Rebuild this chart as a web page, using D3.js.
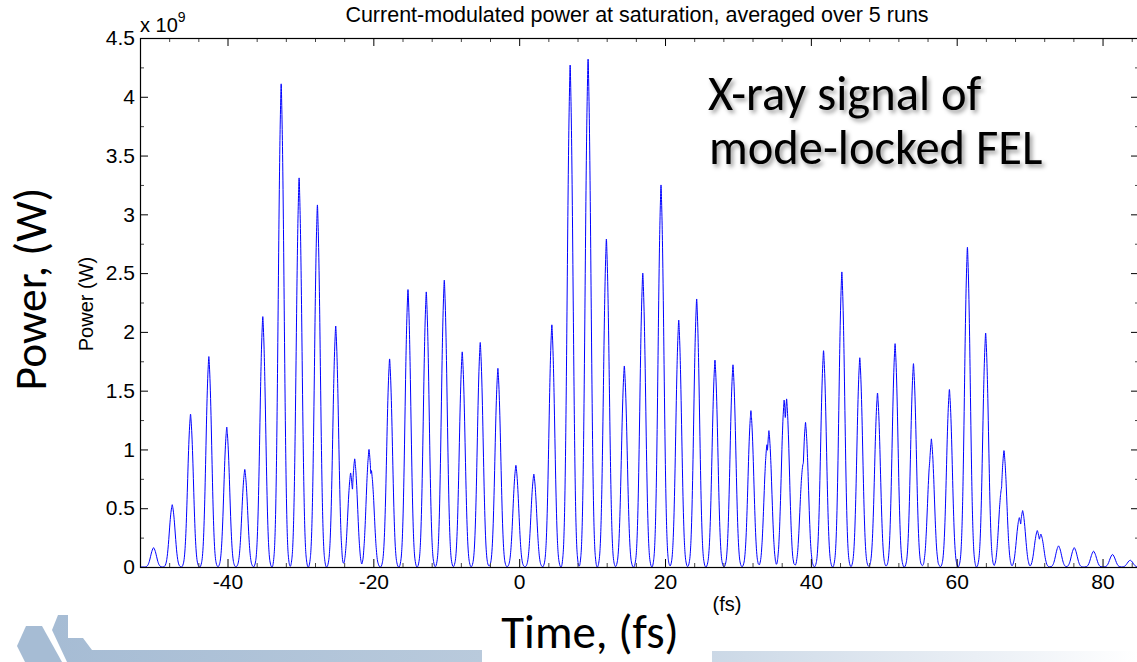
<!DOCTYPE html>
<html>
<head>
<meta charset="utf-8">
<script src="https://cdn.jsdelivr.net/npm/d3@7"></script>
<style>
  html, body { margin: 0; padding: 0; background: #ffffff; }
  svg { display: block; }
  .mat { font-family: "Liberation Sans", Arial, Helvetica, sans-serif; fill: #000; }
  .slide { font-family: Carlito, Calibri, Lato, "Open Sans", sans-serif; fill: #000; }
</style>
</head>
<body>
<script>
// Peak times (fs) and peak powers (units of 1e9 W) of the averaged pulse train
const peakTime = [-50.14, -47.58, -45.07, -42.56, -40.10, -37.63, -35.16, -32.64, -30.18, -27.67,
  -25.16, -22.56, -20.59, -17.77, -15.25, -12.74, -10.27, -7.81, -5.34, -2.92,
  -0.45, 2.01, 4.48, 6.99, 9.45, 11.96, 14.42, 16.95, 19.45, 21.88,
  24.34, 26.85, 29.32, 31.78, 34.25, 36.67, 39.27, 41.74, 44.25, 46.71,
  49.14, 51.55, 54.07, 56.53, 59.00, 61.47, 63.97, 66.48, 69.04, 71.05,
  73.97, 76.12, 78.77, 81.37, 83.79];
const peakPower = [0.165, 0.53, 1.30, 1.79, 1.19, 0.83, 2.13, 4.11, 3.31, 3.08,
  2.05, 0.92, 1.00, 1.77, 2.36, 2.34, 2.44, 1.83, 1.91, 1.69,
  0.865, 0.79, 2.06, 4.27, 4.32, 2.79, 1.71, 2.50, 3.25, 2.10,
  2.28, 1.76, 1.72, 1.33, 1.16, 1.43, 1.23, 1.84, 2.51, 1.78,
  1.48, 1.90, 1.73, 1.09, 1.51, 2.72, 1.99, 0.99, 0.48, 0.31,
  0.18, 0.165, 0.135, 0.107, 0.058];

// Secondary tops of the split pulses
const splitTime  = [-23.11, -20.27, 33.97, 36.34, 38.90, 56.40, 66.16, 68.59, 71.55];
const splitPower = [0.80, 0.82, 1.04, 1.42, 0.87, 0.96, 0.68, 0.42, 0.28];

// Single-pulse profile: offset from the pulse centre (fs) and relative level
const pulseOffset = [-1.24, -1.0, -0.88, -0.75, -0.64, -0.53, -0.42, -0.3, -0.18, -0.08, 0,
  0.08, 0.18, 0.3, 0.42, 0.53, 0.64, 0.75, 0.88, 1.0, 1.24];
const pulseLevel = [0, 0.02, 0.05, 0.12, 0.22, 0.36, 0.53, 0.72, 0.87, 0.955, 1,
  0.955, 0.87, 0.72, 0.53, 0.36, 0.22, 0.12, 0.05, 0.02, 0];

// Axis ticks
const xTickValues = [-40, -20, 0, 20, 40, 60, 80];
const xTickLabels = ["-40", "-20", "0", "20", "40", "60", "80"];
const yTickValues = [0, 0.5, 1, 1.5, 2, 2.5, 3, 3.5, 4, 4.5];
const yTickLabels = ["0", "0.5", "1", "1.5", "2", "2.5", "3", "3.5", "4", "4.5"];

const W = 1137, H = 662;
const plot = { left: 140, top: 38, right: 1139, bottom: 567 };

const svg = d3.select("body").append("svg").attr("width", W).attr("height", H);

// ---- slide decoration along the bottom ----
const defs = svg.append("defs");
const gBar = defs.append("linearGradient").attr("id", "barLeft").attr("x1", "0").attr("x2", "1");
gBar.append("stop").attr("offset", "0").attr("stop-color", "#a6bcd4");
gBar.append("stop").attr("offset", "1").attr("stop-color", "#b9cadc");
const gBar2 = defs.append("linearGradient").attr("id", "barRight").attr("x1", "0").attr("x2", "1");
gBar2.append("stop").attr("offset", "0").attr("stop-color", "#cbd8e6");
gBar2.append("stop").attr("offset", "0.7").attr("stop-color", "#eef2f7");
gBar2.append("stop").attr("offset", "1").attr("stop-color", "#ffffff");

const shadow = defs.append("filter").attr("id", "txtShadow")
  .attr("x", "-10%").attr("y", "-20%").attr("width", "130%").attr("height", "160%");
shadow.append("feDropShadow").attr("dx", 2.5).attr("dy", 3).attr("stdDeviation", 2)
  .attr("flood-color", "#000").attr("flood-opacity", 0.4);

const deco = svg.append("g");
deco.append("polygon")
  .attr("points", [[17, 646], [26, 626], [42, 626], [62, 662], [25, 662]].join(" "))
  .attr("fill", "#a6bcd4");
deco.append("polygon")
  .attr("points", [[52, 630], [58, 615], [68, 615], [68, 638], [83, 638], [92, 650],
                   [482, 650], [482, 662], [67, 662]].join(" "))
  .attr("fill", "url(#barLeft)");
deco.append("rect").attr("x", 712).attr("y", 651).attr("width", 425).attr("height", 11)
  .attr("fill", "url(#barRight)");

// ---- scales ----
const x = d3.scaleLinear().domain([-52, 85]).range([plot.left, plot.right]);
const y = d3.scaleLinear().domain([0, 4.5]).range([plot.bottom, plot.top]);

// ---- power trace built from the pulse list ----
const pulse = d3.scaleLinear().domain(pulseOffset).range(pulseLevel).clamp(true);
const pulses = peakTime.map((t, i) => ({ t, p: peakPower[i] }))
  .concat(splitTime.map((t, i) => ({ t, p: splitPower[i] })));
const times = [x.domain()[0], x.domain()[1]];
pulses.forEach(s => pulseOffset.forEach(o => times.push(s.t + o)));
times.sort(d3.ascending);
const trace = times.map(t => [t, d3.max(pulses, s => s.p * pulse(t - s.t))]);

defs.append("clipPath").attr("id", "plotClip").append("rect")
  .attr("x", plot.left).attr("y", plot.top - 1)
  .attr("width", plot.right - plot.left).attr("height", plot.bottom - plot.top + 1);

svg.append("path")
  .datum(trace)
  .attr("clip-path", "url(#plotClip)")
  .attr("fill", "none")
  .attr("stroke", "#0000ff")
  .attr("stroke-width", 1)
  .attr("d", d3.line().x(d => x(d[0])).y(d => y(d[1])).curve(d3.curveMonotoneX));

// ---- axes (ticks point inward on all four sides) ----
const xMinor = d3.range(-52, 85.01, 4).filter(v => !xTickValues.includes(v));
const yMinor = d3.range(0.25, 4.5, 0.5);
const fontSize = 21;

function styleAxis(g, tickColor) {
  g.select(".domain").remove();
  g.selectAll(".tick line").attr("stroke", tickColor).attr("stroke-width", 1);
  g.selectAll("text").attr("class", "mat").attr("font-size", fontSize).attr("fill", "#000");
  g.attr("font-family", null).attr("font-size", null);
}

const gxB = svg.append("g").attr("transform", `translate(0,${plot.bottom})`)
  .call(d3.axisBottom(x).tickValues(xTickValues).tickFormat((d, i) => xTickLabels[i])
    .tickSize(-8).tickPadding(7));
styleAxis(gxB, "#000");
const gxBm = svg.append("g").attr("transform", `translate(0,${plot.bottom})`)
  .call(d3.axisBottom(x).tickValues(xMinor).tickFormat("").tickSize(-4));
styleAxis(gxBm, "#444");

const gxT = svg.append("g").attr("transform", `translate(0,${plot.top})`)
  .call(d3.axisTop(x).tickValues(xTickValues).tickFormat("").tickSize(-8));
styleAxis(gxT, "#000");
const gxTm = svg.append("g").attr("transform", `translate(0,${plot.top})`)
  .call(d3.axisTop(x).tickValues(xMinor).tickFormat("").tickSize(-4));
styleAxis(gxTm, "#444");

const gyL = svg.append("g").attr("transform", `translate(${plot.left},0)`)
  .call(d3.axisLeft(y).tickValues(yTickValues).tickFormat((d, i) => yTickLabels[i])
    .tickSize(-8).tickPadding(5));
styleAxis(gyL, "#000");
const gyLm = svg.append("g").attr("transform", `translate(${plot.left},0)`)
  .call(d3.axisLeft(y).tickValues(yMinor).tickFormat("").tickSize(-4));
styleAxis(gyLm, "#444");

const gyR = svg.append("g").attr("transform", `translate(${plot.right},0)`)
  .call(d3.axisRight(y).tickValues(yTickValues).tickFormat("").tickSize(-8));
styleAxis(gyR, "#000");
const gyRm = svg.append("g").attr("transform", `translate(${plot.right},0)`)
  .call(d3.axisRight(y).tickValues(yMinor).tickFormat("").tickSize(-4));
styleAxis(gyRm, "#444");

// plot frame
svg.append("rect")
  .attr("x", plot.left + 0.5).attr("y", plot.top + 0.5)
  .attr("width", plot.right - plot.left).attr("height", plot.bottom - plot.top)
  .attr("fill", "none").attr("stroke", "#000").attr("stroke-width", 1.2);

// ---- figure texts ----
svg.append("text").attr("class", "mat").attr("font-size", 21.5)
  .attr("x", 637).attr("y", 22).attr("text-anchor", "middle")
  .text("Current-modulated power at saturation, averaged over 5 runs");

const mult = svg.append("text").attr("class", "mat").attr("font-size", 20)
  .attr("x", plot.left).attr("y", 32);
mult.append("tspan").text("x 10");
mult.append("tspan").attr("font-size", 14).attr("dy", -10).text("9");

svg.append("text").attr("class", "mat").attr("font-size", 20)
  .attr("transform", "translate(93,304) rotate(-90)").attr("text-anchor", "middle")
  .text("Power (W)");

svg.append("text").attr("class", "mat").attr("font-size", 20)
  .attr("x", 727).attr("y", 611).attr("text-anchor", "middle")
  .text("(fs)");

// ---- slide texts ----
svg.append("text").attr("class", "slide").attr("font-size", 45.5)
  .attr("transform", "translate(46,289) rotate(-90)").attr("text-anchor", "middle")
  .text("Power, (W)");

svg.append("text").attr("class", "slide").attr("font-size", 47)
  .attr("x", 590).attr("y", 648).attr("text-anchor", "middle")
  .text("Time, (fs)");

svg.append("text").attr("class", "slide").attr("font-size", 48.5)
  .attr("filter", "url(#txtShadow)")
  .attr("x", 708).attr("y", 110).text("X-ray signal of");
svg.append("text").attr("class", "slide").attr("font-size", 48.5)
  .attr("filter", "url(#txtShadow)")
  .attr("x", 709).attr("y", 164).text("mode-locked FEL");
</script>
</body>
</html>
